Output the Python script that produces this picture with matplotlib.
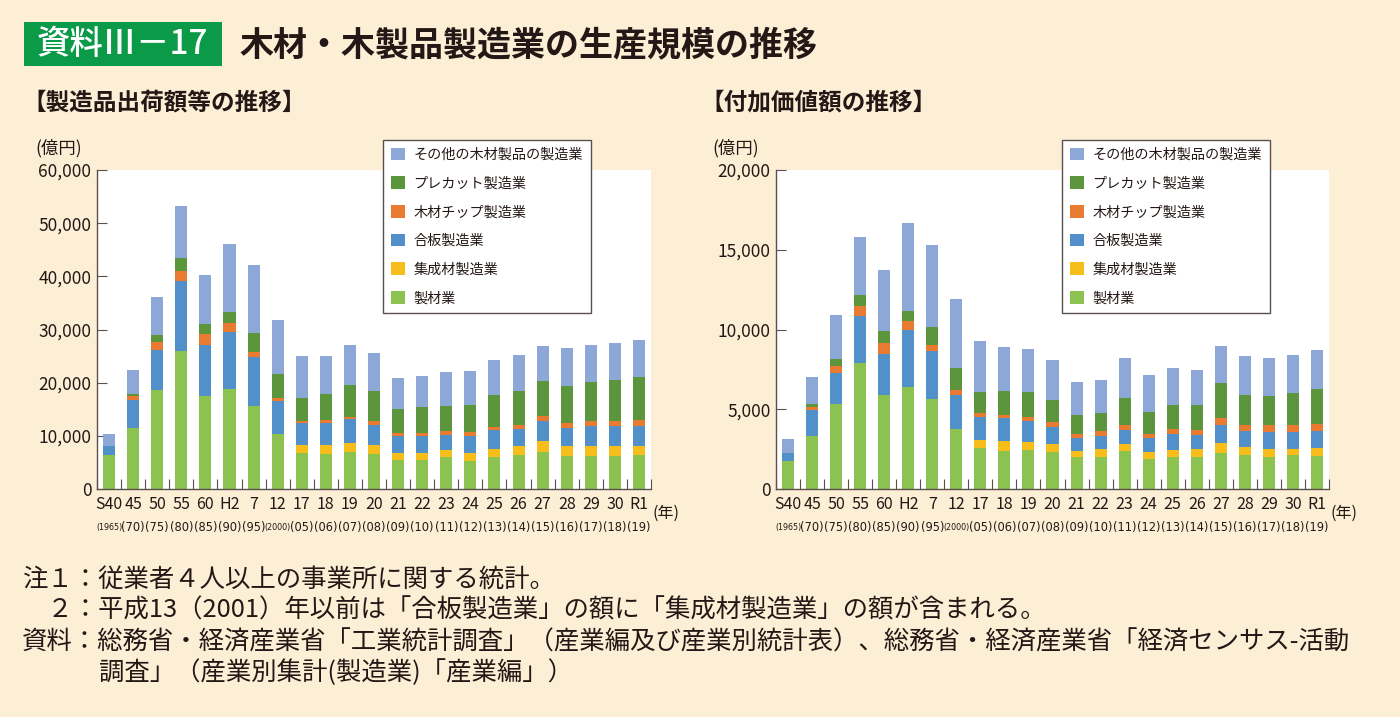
import matplotlib
matplotlib.use('Agg')
import matplotlib.pyplot as plt
from matplotlib import font_manager
from matplotlib.patches import Patch, Rectangle
from matplotlib.ticker import FuncFormatter, MultipleLocator

plt.rcParams['font.family'] = ['Noto Sans CJK JP', 'DejaVu Sans']

# narrow face for the (year) row, if one is around
narrow = None
for f in font_manager.fontManager.ttflist:
    if 'Narrow' in f.name or 'Condensed' in f.name or str(f.stretch) in ('condensed', 'semi-condensed'):
        narrow = (f.name, f.stretch)
        break

# categories (年)
years_top = ['S40', '45', '50', '55', '60', 'H2', '7', '12', '17', '18', '19', '20',
             '21', '22', '23', '24', '25', '26', '27', '28', '29', '30', 'R1']
years_bottom = ['(1965)', '(70)', '(75)', '(80)', '(85)', '(90)', '(95)', '(2000)',
                '(05)', '(06)', '(07)', '(08)', '(09)', '(10)', '(11)', '(12)',
                '(13)', '(14)', '(15)', '(16)', '(17)', '(18)', '(19)']

series_names = ['製材業', '集成材製造業', '合板製造業', '木材チップ製造業',
                'プレカット製造業', 'その他の木材製品の製造業']

# 製造品出荷額等 (億円)
ship_sawmill = [6340, 11560, 18590, 26000, 17460, 18780, 15700, 10430, 6780, 6530, 6910, 6530,
                5400, 5400, 6030, 5340, 5970, 6470, 6910, 6160, 6160, 6280, 6410]
ship_glulam = [0, 0, 0, 0, 0, 0, 0, 0, 1510, 1760, 1820, 1700,
               1450, 1450, 1380, 1510, 1500, 1570, 2070, 1880, 1880, 1760, 1760]
ship_plywood = [1830, 5090, 7480, 13200, 9550, 10810, 9110, 6090, 4080, 4210, 4400, 3890,
                3070, 3070, 2700, 3140, 3590, 3330, 3830, 3520, 3890, 3770, 3760]
ship_chip = [0, 750, 1510, 1880, 2070, 1690, 880, 570, 510, 570, 500, 760,
             630, 630, 760, 690, 690, 750, 880, 940, 950, 1000, 1140]
ship_precut = [0, 380, 1380, 2320, 1890, 1950, 3640, 4580, 4210, 4710, 5840, 5460,
               4530, 4840, 4710, 5090, 5900, 6350, 6600, 6910, 7220, 7670, 7970]
ship_other = [2260, 4520, 7220, 9800, 9230, 12940, 12760, 10180, 7850, 7160, 7600, 7290,
              5840, 5900, 6410, 6400, 6660, 6660, 6530, 7100, 7040, 7030, 7040]

# 付加価値額 (億円)
va_sawmill = [1780, 3330, 5340, 7870, 5910, 6370, 5650, 3790, 2550, 2410, 2430, 2350,
              1990, 2030, 2410, 1880, 1990, 2030, 2260, 2120, 1990, 2120, 2070]
va_glulam = [0, 0, 0, 0, 0, 0, 0, 0, 510, 580, 540, 440,
             420, 460, 420, 420, 480, 460, 650, 540, 500, 410, 490]
va_plywood = [480, 1610, 1950, 2980, 2570, 3580, 3000, 2120, 1460, 1450, 1300, 1080,
              770, 860, 860, 880, 990, 900, 1130, 980, 1110, 1050, 1060]
va_chip = [0, 210, 440, 610, 690, 600, 350, 270, 230, 230, 250, 300,
           250, 270, 330, 250, 290, 320, 440, 400, 400, 420, 480]
va_precut = [0, 150, 440, 690, 710, 590, 1160, 1400, 1340, 1470, 1550, 1440,
             1200, 1150, 1680, 1410, 1530, 1530, 2180, 1840, 1800, 2010, 2180]
va_other = [900, 1740, 2740, 3660, 3880, 5510, 5110, 4320, 3210, 2780, 2700, 2490,
            2050, 2080, 2490, 2300, 2280, 2240, 2300, 2430, 2410, 2410, 2450]

colors = ['#8cc350', '#f7bd1b', '#5290ca', '#e97a32', '#5b953c', '#8da8d6']
bg = '#fdefd6'
ink = '#231815'
axis_col = '#5a5050'


def stacked_panel(ax, series, ymax, step):
    n = len(years_top)
    x = list(range(n))
    bottom = [0] * n
    for values, color in zip(series, colors):
        ax.bar(x, values, width=0.5, bottom=bottom, color=color, linewidth=0, zorder=2)
        bottom = [b + v for b, v in zip(bottom, values)]

    ax.set_facecolor('white')
    ax.set_xlim(-0.5, n - 0.5)
    ax.set_ylim(0, ymax)
    for side in ('top', 'right'):
        ax.spines[side].set_visible(False)
    for side in ('left', 'bottom'):
        ax.spines[side].set_color(axis_col)
        ax.spines[side].set_linewidth(1.0)

    ax.yaxis.set_major_locator(MultipleLocator(step))
    ax.yaxis.set_major_formatter(FuncFormatter(lambda v, p: f'{int(v):,}'))
    ax.tick_params(axis='y', direction='in', length=7, color=axis_col,
                   labelsize=12.5, labelcolor=ink, pad=4)
    ax.set_xticks([i - 0.5 for i in range(n + 1)])
    ax.set_xticklabels([])
    ax.tick_params(axis='x', direction='in', length=7, color=axis_col)

    trans = ax.get_xaxis_transform()
    for i, (top, low) in enumerate(zip(years_top, years_bottom)):
        ax.text(i, -0.05, top, transform=trans, ha='center', va='center',
                fontsize=11.5, color=ink)
        if narrow:
            size = 6.4 if len(low) > 5 else 9.2
            ax.text(i, -0.12, low, transform=trans, ha='center', va='center',
                    fontsize=size, color=ink, family=[narrow[0], 'DejaVu Sans'],
                    fontstretch=narrow[1])
        else:
            size = 6.0 if len(low) > 5 else 8.0
            ax.text(i, -0.12, low, transform=trans, ha='center', va='center',
                    fontsize=size, color=ink, family=['DejaVu Sans'])
    ax.text(1.003, -0.075, '(年)', transform=ax.transAxes, ha='left', va='center',
            fontsize=11.5, color=ink)


fig = plt.figure(figsize=(14, 7.17), dpi=100, facecolor=bg)

ax1 = fig.add_axes([97 / 1400, 1 - 489 / 717, 554 / 1400, 319 / 717])
stacked_panel(ax1, [ship_sawmill, ship_glulam, ship_plywood, ship_chip, ship_precut, ship_other],
              60000, 10000)
ax2 = fig.add_axes([776 / 1400, 1 - 489 / 717, 553 / 1400, 319 / 717])
stacked_panel(ax2, [va_sawmill, va_glulam, va_plywood, va_chip, va_precut, va_other],
              20000, 5000)

# legends
handles = [Patch(facecolor=c, edgecolor='none') for c in colors][::-1]
labels = series_names[::-1]
for x0 in (383 / 1400, 1062 / 1400):
    leg = fig.legend(handles, labels, loc='upper left', bbox_to_anchor=(x0, 1 - 140 / 717),
                     fontsize=10.2, frameon=True, fancybox=False, handlelength=1.0,
                     handleheight=1.0, handletextpad=0.6, labelspacing=1.02,
                     borderpad=0.55, borderaxespad=0)
    leg.get_frame().set_edgecolor(axis_col)
    leg.get_frame().set_linewidth(1.0)
    leg.get_frame().set_facecolor('white')
    leg.get_frame().set_alpha(1.0)
    for t in leg.get_texts():
        t.set_color(ink)

# title block
fig.patches.append(Rectangle((24 / 1400, 1 - 66 / 717), 198 / 1400, 44 / 717,
                             transform=fig.transFigure, facecolor='#0a9a48',
                             edgecolor='none'))
fig.text(122 / 1400, 1 - 44 / 717, '資料Ⅲ－17', ha='center', va='center',
         fontsize=24, fontweight='medium', color='white')
fig.text(240 / 1400, 1 - 45 / 717, '木材・木製品製造業の生産規模の推移', ha='left',
         va='center', fontsize=24.5, fontweight='bold', color=ink)

fig.text(22 / 1400, 1 - 103 / 717, '【製造品出荷額等の推移】', ha='left', va='center',
         fontsize=17, fontweight='bold', color=ink)
fig.text(700 / 1400, 1 - 103 / 717, '【付加価値額の推移】', ha='left', va='center',
         fontsize=17, fontweight='bold', color=ink)

fig.text(35 / 1400, 1 - 148 / 717, '(億円)', ha='left', va='center', fontsize=12.5, color=ink)
fig.text(712 / 1400, 1 - 148 / 717, '(億円)', ha='left', va='center', fontsize=12.5, color=ink)

# notes
notes = [
    (22, 580, '注１：従業者４人以上の事業所に関する統計。'),
    (22, 611, '\u3000２：平成13（2001）年以前は「合板製造業」の額に「集成材製造業」の額が含まれる。'),
    (22, 642, '資料：総務省・経済産業省「工業統計調査」（産業編及び産業別統計表）、総務省・経済産業省「経済センサス-活動'),
    (99, 673, '調査」（産業別集計(製造業)「産業編」）'),
]
for x, y, s in notes:
    fig.text(x / 1400, 1 - y / 717, s, ha='left', va='center', fontsize=18.3, color=ink)

fig.savefig('out.png', dpi=100, facecolor=bg)
